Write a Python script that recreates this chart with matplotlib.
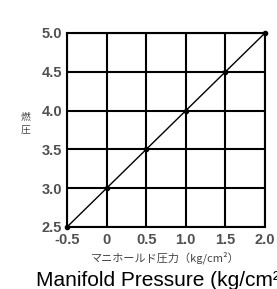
import matplotlib.pyplot as plt

plt.rcParams['font.family'] = ['Noto Sans CJK JP', 'DejaVu Sans']

pressure = [-0.5, 0, 0.5, 1.0, 1.5, 2.0]
fuel = [2.5, 3.0, 3.5, 4.0, 4.5, 5.0]
xticks = [-0.5, 0, 0.5, 1.0, 1.5, 2.0]
xticklabels = ['-0.5', '0', '0.5', '1.0', '1.5', '2.0']
yticks = [2.5, 3.0, 3.5, 4.0, 4.5, 5.0]

fig = plt.figure(figsize=(2.77, 2.89), dpi=100)
ax = fig.add_axes([67/277, 1-227/289, (265-67)/277, (227-33)/289])

ax.plot(pressure, fuel, color='black', lw=1, marker='o', ms=3, clip_on=False, zorder=3)
ax.set_xlim(-0.5, 2.0)
ax.set_ylim(2.5, 5.0)
ax.set_xticks(xticks)
ax.set_xticklabels(xticklabels, family=['Liberation Sans'], weight='bold')
ax.set_yticks(yticks)
ax.set_yticklabels(['%.1f' % v for v in yticks], family=['Liberation Sans'], weight='bold')
ax.tick_params(length=0, labelsize=10.5, colors='#505050')
ax.tick_params(axis='x', pad=4)
ax.tick_params(axis='y', pad=3.5)
ax.grid(True, color='black', lw=1.5)
for s in ax.spines.values():
    s.set_linewidth(1.5)

fig.text(26/277, 1-117/289, '燃', fontsize=7, ha='center', va='center', color='#444444')
fig.text(26/277, 1-130/289, '圧', fontsize=7, ha='center', va='center', color='#444444')
fig.text(165/277, 1-258/289, 'マニホールド圧力（kg/cm²）', fontsize=8,
         ha='center', va='center', color='#444444')
fig.text(36/277, 1-280/289, 'Manifold Pressure (kg/cm²)', fontsize=15,
         ha='left', va='center', family=['Liberation Sans'])

fig.savefig('out.png', dpi=100)
